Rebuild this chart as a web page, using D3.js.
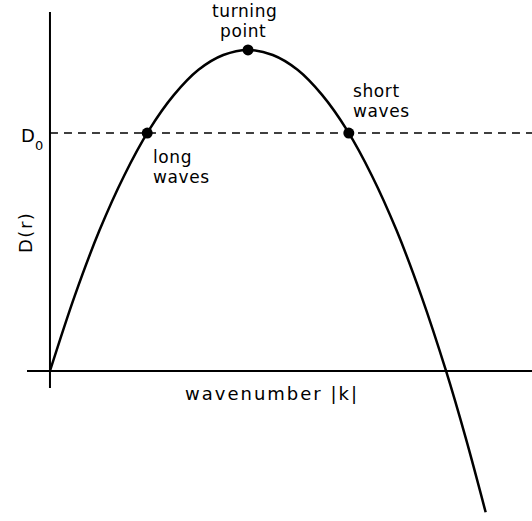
<html>
<head>
<style>
body { margin: 0; background: #fff; }
svg text { font-family: 'DejaVu Sans', sans-serif; fill: #000; }
</style>
</head>
<body>
<svg width="532" height="521"></svg>
<script src="https://d3js.org/d3.v7.min.js"></script>
<script>
// growth rate D against wavenumber
const waveK = [0, 0.125, 0.25, 0.375, 0.5, 0.625, 0.75, 0.875, 1.0, 1.125, 1.25, 1.375, 1.5, 1.625, 1.75, 1.875, 2.0, 2.1, 2.2];
const growthD = [0, 0.234, 0.438, 0.609, 0.75, 0.859, 0.938, 0.984, 1.0, 0.984, 0.938, 0.859, 0.75, 0.609, 0.438, 0.234, 0, -0.21, -0.44];
const D0 = 0.741;
// marked points: long waves, turning point, short waves
const markK = [0.491, 1.0, 1.509];
const markD = [D0, 1.0, D0];

const svg = d3.select("svg");
const x = d3.scaleLinear().domain([-0.116, 2.434]).range([27, 532]);
const y = d3.scaleLinear().domain([-0.053, 1.118]).range([388, 12]);

// axes
svg.append("line")
	.attr("x1", x(0)).attr("x2", x(0))
	.attr("y1", y(1.118)).attr("y2", y(-0.053))
	.attr("stroke", "#000").attr("stroke-width", 2);
svg.append("line")
	.attr("x1", x(-0.116)).attr("x2", x(2.434))
	.attr("y1", y(0)).attr("y2", y(0))
	.attr("stroke", "#000").attr("stroke-width", 2);

// D0 dashed level
svg.append("line")
	.attr("x1", x(0)).attr("x2", x(2.434))
	.attr("y1", y(D0)).attr("y2", y(D0))
	.attr("stroke", "#000").attr("stroke-width", 1.5)
	.attr("stroke-dasharray", "8,6");

// curve
const line = d3.line()
	.x(function(d, i) { return x(waveK[i]); })
	.y(function(d, i) { return y(growthD[i]); })
	.curve(d3.curveCatmullRom);
svg.append("path")
	.datum(waveK)
	.attr("d", line)
	.attr("fill", "none")
	.attr("stroke", "#000")
	.attr("stroke-width", 2.5);

// points
svg.selectAll("circle")
	.data(markK)
	.enter()
	.append("circle")
	.attr("cx", function(d) { return x(d); })
	.attr("cy", function(d, i) { return y(markD[i]); })
	.attr("r", 5.5)
	.attr("fill", "#000");

// labels
function label(txt, px, py, size, anchor) {
	return svg.append("text")
		.attr("x", px).attr("y", py)
		.attr("font-size", size)
		.attr("letter-spacing", 0.6)
		.attr("text-anchor", anchor || "start")
		.text(txt);
}
label("turning", 212, 17, 17);
label("point", 220, 37, 17);
label("short", 353, 97, 17);
label("waves", 353, 117, 17);
label("long", 153, 163, 17);
label("waves", 153, 183, 17);
label("wavenumber |k|", 185, 400, 18).attr("letter-spacing", 2);

const d0 = svg.append("text").attr("x", 21).attr("y", 142).attr("font-size", 18);
d0.append("tspan").text("D");
d0.append("tspan").attr("dy", 8).attr("font-size", 13).text("0");

svg.append("text")
	.attr("transform", "translate(32,253) rotate(-90)")
	.attr("font-size", 18)
	.attr("letter-spacing", 1.5)
	.text("D(r)");
</script>
</body>
</html>
